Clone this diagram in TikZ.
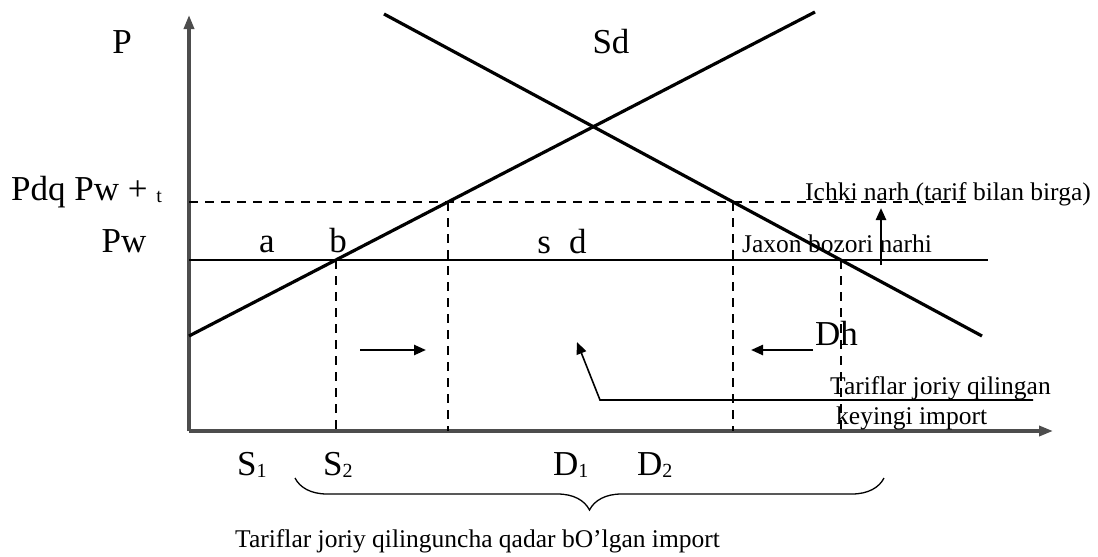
\documentclass[tikz,border=0pt]{standalone}
\usepackage{fontspec}
\setmainfont{Liberation Serif}
\usetikzlibrary{arrows.meta,decorations.pathreplacing}
\definecolor{axisgray}{HTML}{4D4D4D}
\newcommand{\bigtxt}{\fontsize{35}{40}\selectfont}
\newcommand{\smalltxt}{\fontsize{25.5}{30}\selectfont}
\newcommand{\lowidx}[1]{\raisebox{-2pt}{\fontsize{20}{22}\selectfont #1}}
\begin{document}
\begin{tikzpicture}[x=1pt,y=1pt,
	axis/.style={draw=axisgray,line width=3.4pt,-{Triangle[length=14pt,width=10pt]}},
	curve/.style={black,line width=3.2pt},
	level/.style={black,line width=1.6pt},
	guide/.style={black,line width=1.6pt,dash pattern=on 9pt off 7pt},
	moveto/.style={black,line width=2.4pt,-{Triangle[length=12pt,width=10pt]}},
	lbl/.style={anchor=base,font=\bigtxt},
	note/.style={anchor=base west,font=\smalltxt}]
		\tikzstyle{every node}+=[inner sep=0pt]
		\useasboundingbox (0,0) rectangle (1098,-557);
		% axes
		\coordinate (O) at (189,-431);
		\coordinate (ytip) at (189,-15);
		\coordinate (xtip) at (1053,-431);
		\draw [axis] (O) -- (ytip);
		\draw [axis] (O) -- (xtip);
		% supply and demand
		\coordinate (s0) at (189,-336);
		\coordinate (s1) at (815,-12);
		\coordinate (d0) at (384,-14);
		\coordinate (d1) at (982,-336);
		\draw [curve] (s0) -- (s1);
		\draw [curve] (d0) -- (d1);
		% world price and price with tariff
		\coordinate (pwL) at (189,-260);
		\coordinate (pwR) at (988,-260);
		\coordinate (pdL) at (189,-202);
		\coordinate (pdR) at (968,-202);
		\draw [level] (pwL) -- (pwR);
		\draw [guide] (pdL) -- (pdR);
		\coordinate (S1) at (intersection of s0--s1 and pwL--pwR);
		\coordinate (S2) at (intersection of s0--s1 and pdL--pdR);
		\coordinate (D1) at (intersection of d0--d1 and pdL--pdR);
		\coordinate (D2) at (intersection of d0--d1 and pwL--pwR);
		\draw [guide] (S1) -- (S1 |- O);
		\draw [guide] (S2) -- (S2 |- O);
		\draw [guide] (D1) -- (D1 |- O);
		\draw [guide] (D2) -- (D2 |- O);
		% shifts
		\coordinate (ra) at (360,-350);
		\coordinate (rb) at (426,-350);
		\draw [moveto] (ra) -- (rb);
		\coordinate (la) at (813,-350);
		\coordinate (lb) at (751,-350);
		\draw [moveto] (la) -- (lb);
		\coordinate (ua) at (881,-265);
		\coordinate (ub) at (881,-208);
		\draw [moveto] (ua) -- (ub);
		\coordinate (ka) at (1033,-400);
		\coordinate (kb) at (600,-400);
		\coordinate (kc) at (577,-342);
		\draw [level,-{Triangle[length=12pt,width=10pt]}] (ka) -- (kb) -- (kc);
		% brace
		\coordinate (bl) at (295,-478);
		\coordinate (br) at (884,-478);
		\draw [black,line width=1.3pt,decorate,decoration={brace,amplitude=32pt}] (br) -- (bl);
		% labels
		\node [lbl] (lP) at (122,-53) {P};
		\node [lbl] (lSd) at (611,-53) {Sd};
		\node [lbl,anchor=base west] (lPdq) at (11,-200) {Pdq Pw + \lowidx{t}};
		\node [lbl] (lPw) at (124,-252) {Pw};
		\node [lbl] (la) at (267,-252) {a};
		\node [lbl] (lb) at (338,-252) {b};
		\node [lbl] (lsd) at (562,-253) {s\hspace{18pt}d};
		\node [lbl,anchor=base west] (lDh) at (815,-345) {Dh};
		\node [note] (ljax) at (742,-252) {Jaxon bozori narhi};
		\node [note] (lich) at (805,-200) {Ichki narh (tarif bilan birga)};
		\node [note] (ltar) at (830,-394) {Tariflar joriy qilingan};
		\node [note] (lkey) at (836,-424) {keyingi import};
		\node [lbl,anchor=base west] (lS1) at (237,-475) {S\lowidx{1}};
		\node [lbl,anchor=base west] (lS2) at (323,-475) {S\lowidx{2}};
		\node [lbl,anchor=base west] (lD1) at (553,-475) {D\lowidx{1}};
		\node [lbl,anchor=base west] (lD2) at (637,-475) {D\lowidx{2}};
		\node [note] (lbot) at (235,-547) {Tariflar joriy qilinguncha qadar bO’lgan import};
	\end{tikzpicture}
\end{document}
